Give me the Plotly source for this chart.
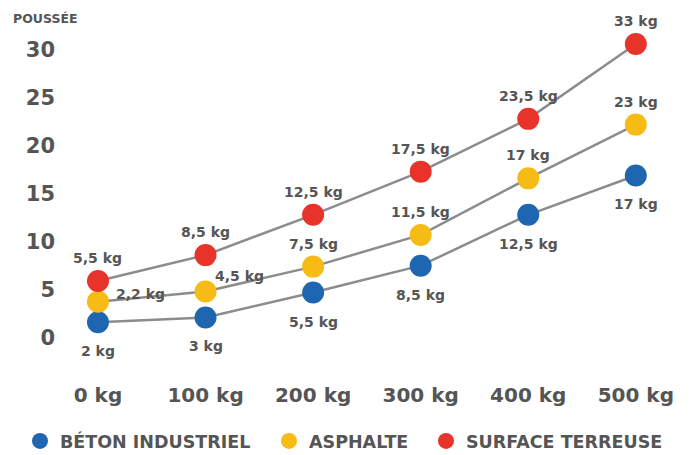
import plotly.graph_objects as go

categories = ["0 kg", "100 kg", "200 kg", "300 kg", "400 kg", "500 kg"]
series_names = ["BÉTON INDUSTRIEL", "ASPHALTE", "SURFACE TERREUSE"]
beton = [1.6, 2.1, 4.7, 7.5, 12.8, 16.9]
asphalte = [3.75, 4.8, 7.4, 10.7, 16.6, 22.2]
surface = [5.9, 8.6, 12.8, 17.3, 22.8, 30.6]
beton_labels = ["2 kg", "3 kg", "5,5 kg", "8,5 kg", "12,5 kg", "17 kg"]
asphalte_labels = ["2,2 kg", "4,5 kg", "7,5 kg", "11,5 kg", "17 kg", "23 kg"]
surface_labels = ["5,5 kg", "8,5 kg", "12,5 kg", "17,5 kg", "23,5 kg", "33 kg"]
y_ticks = [0, 5, 10, 15, 20, 25, 30]

colors = ["#1f66b0", "#f6bb14", "#e8332a"]
txt = "#555555"
FONT = "DejaVu Sans"
xpos = list(range(len(categories)))

fig = go.Figure()
for vals, name, c in zip([beton, asphalte, surface], series_names, colors):
    fig.add_trace(go.Scatter(
        x=xpos, y=vals, mode="lines+markers",
        line=dict(color="#8c8c8c", width=2.5),
        marker=dict(color=c, size=22, line=dict(width=0)),
        showlegend=False, cliponaxis=False, name=name,
    ))

# label placement (pixel offsets from each point): (xanchor, xshift, yshift)
label_style = {
    "beton": [("center", 0, -29)] * 6,
    "asphalte": [("left", 16, 8), ("left", 7, 16)] + [("center", 0, 23)] * 4,
    "surface": [("center", 0, 23)] * 6,
}
for vals, labs, key in zip([beton, asphalte, surface],
                           [beton_labels, asphalte_labels, surface_labels],
                           ["beton", "asphalte", "surface"]):
    for xi, yi, lab, (xa, xs, ys) in zip(xpos, vals, labs, label_style[key]):
        fig.add_annotation(x=xi, y=yi, xref="x", yref="y", text=lab, showarrow=False,
                           xanchor=xa, yanchor="middle", xshift=xs, yshift=ys,
                           font=dict(family=FONT, size=14, color=txt, weight="bold"))

legend_names = ["legend", "legend2", "legend3"]
legend_x = [20, 269, 426]
for name, c, lg in zip(series_names, colors, legend_names):
    fig.add_trace(go.Scatter(
        x=[None], y=[None], mode="markers", name=name, legend=lg,
        marker=dict(color=c, size=22), showlegend=True,
    ))

legend_common = dict(orientation="h", xref="container", yref="container",
                     y=14 / 455, yanchor="middle", xanchor="left",
                     font=dict(family=FONT, size=17.5, color=txt, weight="bold"),
                     itemwidth=30, bgcolor="rgba(0,0,0,0)")
legends = {}
for lg, lx in zip(legend_names, legend_x):
    legends[lg] = dict(legend_common, x=lx / 694)

fig.update_layout(
    width=694, height=455,
    margin=dict(l=70, r=13, t=21, b=79, autoexpand=False),
    paper_bgcolor="white", plot_bgcolor="white",
    font=dict(family=FONT, color=txt),
    xaxis=dict(range=[-0.26, 5.42], tickvals=xpos, ticktext=categories,
               showgrid=False, zeroline=False, showline=False, ticklabelstandoff=5,
               tickfont=dict(family=FONT, size=20, color=txt, weight="bold")),
    yaxis=dict(range=[-4, 33], tickvals=y_ticks, showgrid=False, zeroline=False,
               showline=False, ticklabelstandoff=14,
               tickfont=dict(family=FONT, size=21, color=txt, weight="bold")),
    **legends,
)
fig.add_annotation(text="POUSSÉE", xref="paper", yref="paper", x=13 / 694 - 70 / 611, y=1.0,
                   xanchor="left", yanchor="bottom", yshift=-7, showarrow=False,
                   font=dict(family=FONT, size=12.5, color=txt, weight="bold"))

fig.write_html("out.html", config={"displayModeBar": False},
               post_script="document.body.style.margin='0px';")
